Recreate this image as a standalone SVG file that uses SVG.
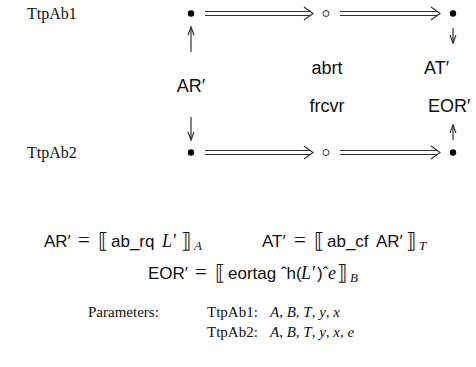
<svg xmlns="http://www.w3.org/2000/svg" width="476" height="367" viewBox="0 0 476 367">
<style>
.hdr{font-family:"Liberation Serif","Times New Roman",serif;font-size:16px;fill:#111}
.ser{font-family:"Liberation Serif","Times New Roman",serif;font-size:15px;fill:#111}
.lab{font-family:"Liberation Sans",Arial,sans-serif;font-size:18px;fill:#111}
.f{font-family:"Liberation Sans",Arial,sans-serif;font-size:17px;fill:#111}
.it{font-family:"Liberation Serif","Times New Roman",serif;font-style:italic;font-size:18px;fill:#111}
.sub{font-family:"Liberation Serif","Times New Roman",serif;font-style:italic;font-size:13px;fill:#111}
.eq{font-family:"Liberation Serif","Times New Roman",serif;font-size:21px;fill:#111}
.br{font-family:"DejaVu Serif",serif;font-size:21px;fill:#111}
.ln{stroke:#333;stroke-width:1.2;fill:none}
.hd{stroke:#333;stroke-width:1.2;fill:none}
.pi{font-style:italic}
</style>
<rect width="476" height="367" fill="#fff"/>
<g id="labels">
<text class="hdr" x="27" y="19">TtpAb1</text>
<text class="hdr" x="27" y="158">TtpAb2</text>
</g>
<g id="n_tl"><circle cx="191" cy="13.5" r="3.2" fill="#000"/></g>
<g id="n_tm"><circle cx="326" cy="13.5" r="3" fill="#fff" stroke="#333" stroke-width="1"/></g>
<g id="n_tr"><circle cx="453" cy="13.5" r="3.2" fill="#000"/></g>
<g id="n_bl"><circle cx="191" cy="152.5" r="3.2" fill="#000"/></g>
<g id="n_bm"><circle cx="326" cy="152.5" r="3" fill="#fff" stroke="#333" stroke-width="1"/></g>
<g id="n_br"><circle cx="453" cy="152.5" r="3.2" fill="#000"/></g>
<g id="connectors">
<path class="ln" d="M205,11.5H311M205,15.5H311M340,11.5H438M340,15.5H438"/>
<path class="hd" d="M304,7L313,13.5L304,20M431,7L440,13.5L431,20"/>
<path class="ln" d="M205,150.5H311M205,154.5H311M340,150.5H438M340,154.5H438"/>
<path class="hd" d="M304,146L313,152.5L304,159M431,146L440,152.5L431,159"/>
<path class="ln" d="M191,27V52M191,117V140M453,28V43M453,125V140"/>
<path class="hd" d="M188,35L191,27L194,35M188,132L191,140L194,132M450,35L453,43L456,35M450,133L453,125L456,133"/>
</g>
<g id="edge_labels">
<text class="lab" x="191" y="92" text-anchor="middle">AR′</text>
<text class="lab" x="327" y="74" text-anchor="middle">abrt</text>
<text class="lab" x="327" y="112" text-anchor="middle">frcvr</text>
<text class="lab" x="424" y="74">AT′</text>
<text class="lab" x="428" y="112">EOR′</text>
</g>
<g id="formulas">
<text class="f" x="44" y="247">AR′</text>
<text class="eq" x="78" y="247">=</text>
<text class="br" x="98" y="248">⟦</text>
<text class="f" x="111" y="247">ab_rq</text>
<text class="it" x="162" y="247">L′</text>
<text class="br" x="181" y="248">⟧</text>
<text class="sub" x="194" y="250">A</text>

<text class="f" x="262" y="247">AT′</text>
<text class="eq" x="294" y="247">=</text>
<text class="br" x="314" y="248">⟦</text>
<text class="f" x="327" y="247">ab_cf</text>
<text class="f" x="376" y="247">AR′</text>
<text class="br" x="406" y="248">⟧</text>
<text class="sub" x="419" y="250">T</text>

<text class="f" x="148" y="279">EOR′</text>
<text class="eq" x="195" y="279">=</text>
<text class="br" x="215" y="280">⟦</text>
<text class="f" x="228" y="279">eortag ˆh(</text>
<text class="it" x="301" y="279">L′</text>
<text class="f" x="317" y="279">)ˆ</text>
<text class="it" x="328" y="279">e</text>
<text class="br" x="337" y="280">⟧</text>
<text class="sub" x="350" y="282">B</text>
</g>
<g id="params">
<text class="ser" x="88" y="317">Parameters:</text>
<text class="ser" x="207" y="317">TtpAb1:</text>
<text class="ser" x="270" y="317"><tspan class="pi">A</tspan>, <tspan class="pi">B</tspan>, <tspan class="pi">T</tspan>, <tspan class="pi">y</tspan>, <tspan class="pi">x</tspan></text>
<text class="ser" x="207" y="337">TtpAb2:</text>
<text class="ser" x="270" y="337"><tspan class="pi">A</tspan>, <tspan class="pi">B</tspan>, <tspan class="pi">T</tspan>, <tspan class="pi">y</tspan>, <tspan class="pi">x</tspan>, <tspan class="pi">e</tspan></text>
</g>
</svg>
